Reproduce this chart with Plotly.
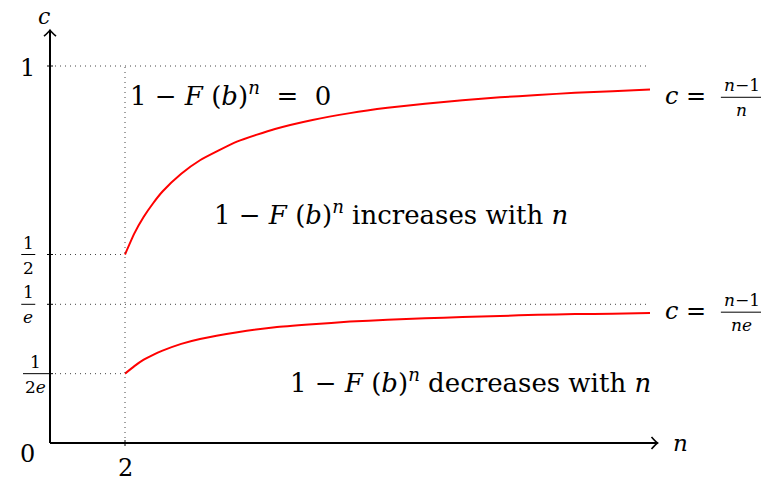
import plotly.graph_objects as go

# values
n_vals = [2, 2.25, 2.5, 2.75, 3, 3.5, 4, 5, 6, 7, 8, 9, 10, 11, 12, 13, 14, 15, 16]
c_upper = [0.5, 0.556, 0.6, 0.636, 0.667, 0.714, 0.75, 0.8, 0.833, 0.857, 0.875, 0.889,
           0.9, 0.909, 0.917, 0.923, 0.929, 0.933, 0.9375]
c_lower = [0.184, 0.204, 0.221, 0.234, 0.245, 0.263, 0.276, 0.294, 0.307, 0.315, 0.322,
           0.327, 0.331, 0.334, 0.337, 0.340, 0.342, 0.343, 0.345]

y_ticks = [1.0, 0.5, 0.3679, 0.1839]
x_tick = 2
n_max = 16

SERIF = "DejaVu Serif, Liberation Serif, serif"
BLACK = "#000000"
DOT = dict(color="#444444", width=1, dash="1px,4px")
PX, PY = 37.5, 377  # pixels per unit n, per unit c

fig = go.Figure()

for ys in (c_upper, c_lower):
    fig.add_trace(go.Scatter(
        x=n_vals, y=ys, mode="lines",
        line=dict(color="#ff0000", width=2, shape="spline", smoothing=0.5),
        showlegend=False, hoverinfo="skip",
    ))

shapes = []
# dotted guides
for yv in (y_ticks[0], y_ticks[2]):
    shapes.append(dict(type="line", xref="x", yref="y", x0=0, x1=n_max, y0=yv, y1=yv, line=DOT))
for yv in (y_ticks[1], y_ticks[3]):
    shapes.append(dict(type="line", xref="x", yref="y", x0=0, x1=x_tick, y0=yv, y1=yv, line=DOT))
shapes.append(dict(type="line", xref="x", yref="y", x0=x_tick, x1=x_tick, y0=0, y1=1, line=DOT))

# axes
x_end = 16.2
y_end = 1.095
shapes.append(dict(type="line", xref="x", yref="y", x0=0, x1=x_end, y0=0, y1=0, line=dict(color=BLACK, width=2)))
shapes.append(dict(type="line", xref="x", yref="y", x0=0, x1=0, y0=0, y1=y_end, line=dict(color=BLACK, width=2)))
dx, dy = 6 / PX, 6 / PY
shapes.append(dict(type="path", xref="x", yref="y",
                   path=f"M {x_end-dx},{dy} Q {x_end-dx*0.3},{dy*0.2} {x_end},0 Q {x_end-dx*0.3},{-dy*0.2} {x_end-dx},{-dy}",
                   line=dict(color=BLACK, width=1.6)))
shapes.append(dict(type="path", xref="x", yref="y",
                   path=f"M {-dx},{y_end-dy} Q {-dx*0.2},{y_end-dy*0.3} 0,{y_end} Q {dx*0.2},{y_end-dy*0.3} {dx},{y_end-dy}",
                   line=dict(color=BLACK, width=1.6)))
tx, ty = 3 / PX, 3 / PY
for yv in y_ticks:
    shapes.append(dict(type="line", xref="x", yref="y", x0=-tx, x1=tx, y0=yv, y1=yv, line=dict(color=BLACK, width=1)))
shapes.append(dict(type="line", xref="x", yref="y", x0=x_tick, x1=x_tick, y0=-ty, y1=ty, line=dict(color=BLACK, width=1)))

annotations = []


def text(x, y, s, size=24, xanchor="center", yanchor="middle"):
    annotations.append(dict(x=x, y=y, xref="x", yref="y", text=s, showarrow=False,
                            font=dict(family=SERIF, size=size, color=BLACK),
                            xanchor=xanchor, yanchor=yanchor))


def frac(x, y, num, den, width, size=17):
    # x is the centre of the fraction, y the bar height
    text(x, y + 12 / PY, num, size=size)
    text(x, y - 13 / PY, den, size=size)
    shapes.append(dict(type="line", xref="x", yref="y", x0=x - width / 2, x1=x + width / 2,
                       y0=y, y1=y, line=dict(color=BLACK, width=1)))


# axis labels
text(-0.15, 1.13, "<i>c</i>", size=22)
text(16.55, 0.0, "<i>n</i>", size=23, xanchor="left")
text(-0.6, 0.995, "1", size=24)
text(-0.6, -0.03, "0", size=24)
text(2, -0.065, "2", size=24)
frac(-0.58, y_ticks[1], "1", "2", 14 / PX)
frac(-0.58, y_ticks[2], "1", "<i>e</i>", 14 / PX)
frac(-0.4, y_ticks[3], "1", "2<i>e</i>", 24 / PX)

# curve labels
text(16.35, 0.92, "<i>c</i> =", size=24, xanchor="left")
frac(18.45, 0.917, "<i>n</i>−1", "<i>n</i>", 42 / PX)
text(16.35, 0.349, "<i>c</i> =", size=24, xanchor="left")
frac(18.45, 0.347, "<i>n</i>−1", "<i>ne</i>", 42 / PX)

# region labels
text(2.07, 0.925, "1 − <i>F</i> (<i>b</i>)<sup><i>n</i></sup>  =  0", size=26, xanchor="left")
text(4.32, 0.61, "1 − <i>F</i> (<i>b</i>)<sup><i>n</i></sup> increases with <i>n</i>", size=26, xanchor="left")
text(6.35, 0.165, "1 − <i>F</i> (<i>b</i>)<sup><i>n</i></sup> decreases with <i>n</i>", size=26, xanchor="left")

# the page body adds an 8px offset, so shift the ranges to compensate
fig.update_layout(
    width=769, height=485,
    margin=dict(l=0, r=0, t=0, b=0),
    paper_bgcolor="white", plot_bgcolor="white",
    shapes=shapes, annotations=annotations,
    xaxis=dict(range=[-42 / PX, 727 / PX], visible=False, fixedrange=True),
    yaxis=dict(range=[-50 / PY, 435 / PY], visible=False, fixedrange=True),
    showlegend=False,
)

fig.write_html("out.html")
